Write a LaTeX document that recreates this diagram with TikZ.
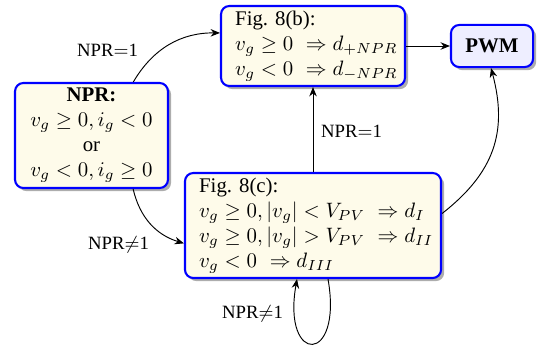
\documentclass[tikz,border=0pt]{standalone}
\usepackage[no-math]{fontspec}
\setmainfont{Liberation Serif}
\usetikzlibrary{arrows.meta,shadows,calc}
\definecolor{notefill}{RGB}{254,251,234}
\definecolor{pwmfill}{RGB}{238,238,255}
\tikzset{
  statebox/.style={draw=blue, line width=1pt, rounded corners=4pt, fill=notefill,
    drop shadow={shadow xshift=1.5pt, shadow yshift=-1.5pt, fill=black!32, opacity=1},
    inner ysep=0pt},
  leftbox/.style={statebox, align=left, inner xsep=6.8pt},
  link/.style={-{Stealth[length=4.5pt,width=3.6pt]}, line width=0.45pt},
  tag/.style={font=\small, anchor=base, inner sep=0pt},
}
\newcommand{\oneline}[1]{\mbox{#1}}
\begin{document}
\begin{tikzpicture}[x=0.48pt, y=-0.48pt]
\useasboundingbox (0,0) rectangle (537,350);

% states
\node[leftbox, text width=74.7pt, minimum width=88.3pt, minimum height=38.4pt] (b) at (313,46)
  {\oneline{Fig.\ 8(b):}\\
   \oneline{$v_g \geq 0 \ \Rightarrow d_{+NPR}$}\\
   \oneline{$v_g < 0 \ \Rightarrow d_{-NPR}$}};
\node[statebox, align=center, minimum width=73.4pt, minimum height=50.4pt] (npr) at (91.5,135.5)
  {\textbf{NPR:}\\
   $v_g \geq 0, i_g < 0$\\
   or\\
   $v_g < 0, i_g \geq 0$};
\node[leftbox, text width=109.3pt, minimum width=122.9pt, minimum height=50.4pt] (c) at (313,225.5)
  {\oneline{Fig.\ 8(c):}\\
   \oneline{$v_g \geq 0, |v_g| < V_{PV} \ \Rightarrow d_I$}\\
   \oneline{$v_g \geq 0, |v_g| > V_{PV} \ \Rightarrow d_{II}$}\\
   \oneline{$v_g < 0 \ \Rightarrow d_{III}$}};
\node[statebox, fill=pwmfill, minimum width=39.4pt, minimum height=20.2pt] (pwm) at (492,46)
  {\textbf{PWM}};

% transitions
\draw[link] (npr) to[bend left] (b);
\draw[link] (npr) to[bend right] (c);
\draw[link] (c) -- (b);
\draw[link] (b) -- (pwm);
\draw[link] ($(c.east)+(0,-12)$) to[out=38, in=-75, looseness=1.1] ($(pwm.south)+(-1,0)$);
\draw[link] ($(c.south)+(15,0)$) to[out=-80, in=-100, distance=42pt] ($(c.south)+(-16,0)$);

% transition labels
\node[tag] (t1) at (107.5,57) {NPR$=$1};
\node[tag] (t2) at (118.5,249) {NPR$\neq$1};
\node[tag] (t3) at (351.5,137) {NPR$=$1};
\node[tag] (t4) at (252.5,318) {NPR$\neq$1};
\end{tikzpicture}
\end{document}
